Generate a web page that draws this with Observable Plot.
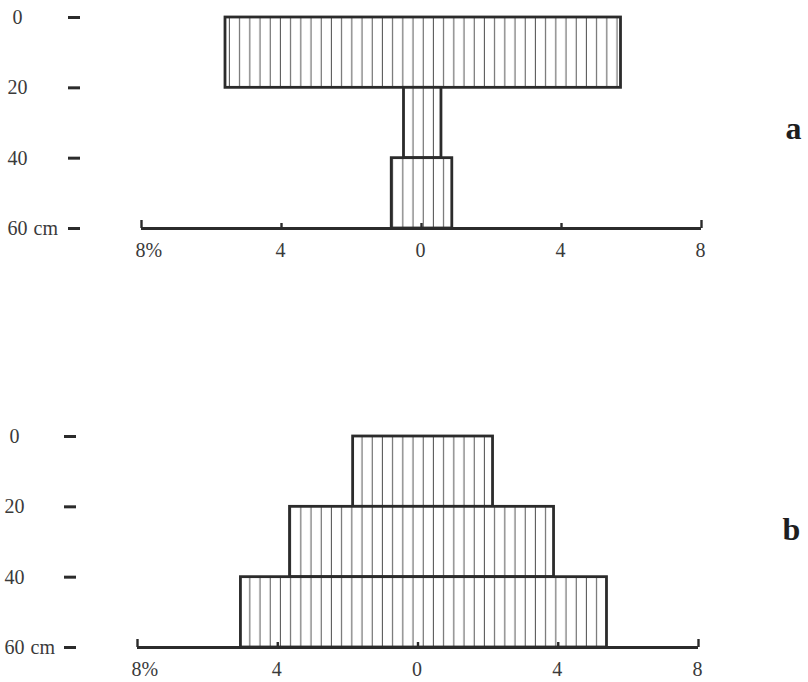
<!DOCTYPE html>
<html><head><meta charset="utf-8">
<script src="https://cdn.jsdelivr.net/npm/d3@7"></script>
<script src="https://cdn.jsdelivr.net/npm/@observablehq/plot@0.6"></script>
<style>
body{margin:0;background:#fff;}
#chart{width:808px;height:682px;}
#chart svg{display:block;}
</style></head><body><div id="chart"></div>
<script>
// Depth classes (cm)
const depthTop = [0, 20, 40];
const depthBottom = [20, 40, 60];
const depthTicks = [0, 20, 40, 60];
const depthUnit = "cm";
// Panel a: percentage to the left / right of the centre line
const aLeft = [5.6, 0.5, 0.85];
const aRight = [5.7, 0.57, 0.88];
// Panel b
const bLeft = [1.85, 3.65, 5.05];
const bRight = [2.14, 3.88, 5.39];
// x axis ticks
const xTicks = [-8, -4, 0, 4, 8];
const xEndTicks = [-8, 8];
const xMidTicks = [-4, 0, 4];
const panelLabels = ["a", "b"];

const ink = "#2b2b2b";
const textInk = "#3a3a3a";
const font = "'Liberation Serif', 'DejaVu Serif', serif";
const fs = 20;

function panel(left, right, label, id, m) {
  const rows = depthTop.map((t, i) => ({x1: -left[i], x2: right[i], y1: t, y2: depthBottom[i]}));
  const maxDepth = d3.max(depthBottom);
  const svg = Plot.plot({
    width: 808,
    height: 341,
    marginTop: m.top, marginBottom: m.bottom, marginLeft: m.left, marginRight: m.right,
    style: {fontFamily: font, fontSize: `${fs}px`, color: ink, background: "#fff"},
    x: {domain: [xTicks[0], xTicks[xTicks.length - 1]]},
    y: {domain: [0, maxDepth], reverse: true},
    marks: [
      Plot.rect(rows, {x1: "x1", x2: "x2", y1: "y1", y2: "y2", fill: `url(#${id})`, stroke: ink, strokeWidth: 2.8}),
      // x axis baseline
      Plot.ruleY([maxDepth], {x1: () => xTicks[0], x2: () => xTicks[xTicks.length - 1], stroke: ink, strokeWidth: 2.8}),
      Plot.ruleX(xEndTicks, {y1: () => maxDepth, y2: () => maxDepth, insetTop: -8, stroke: ink, strokeWidth: 2.4}),
      Plot.ruleX(xMidTicks, {y1: () => maxDepth, y2: () => maxDepth, insetTop: -5, stroke: ink, strokeWidth: 2.4}),
      Plot.axisX({ticks: xTicks, tickSize: 0, tickPadding: 14, textAnchor: "start", dx: -6,
        fontSize: fs, fontFamily: font, fill: textInk,
        tickFormat: d => d === xTicks[0] ? `${-d}%` : `${Math.abs(d)}`}),
      // y axis dashes and labels
      Plot.axisY({ticks: depthTicks, tickSize: 12, text: null, dx: m.dashRight - m.left, strokeWidth: 3, stroke: ink}),
      Plot.axisY({ticks: depthTicks, tickSize: 0, tickPadding: 0, textAnchor: "middle", dx: m.numCenter - m.left,
        fontSize: fs, fontFamily: font, fill: textInk, tickFormat: d => `${d}`}),
      Plot.text([maxDepth], {y: d => d, text: () => depthUnit, frameAnchor: "left", textAnchor: "start",
        dx: m.unitLeft - m.left, fontSize: fs, fontFamily: font, fill: textInk}),
      Plot.text([label], {frameAnchor: "right", textAnchor: "start", dx: m.labelDx, dy: m.labelDy,
        fontSize: 32, fontWeight: "bold", fill: "#1e1e1e", fontFamily: font})
    ]
  });
  const defs = d3.select(svg).insert("defs", ":first-child");
  const pat = defs.append("pattern").attr("id", id).attr("patternUnits", "userSpaceOnUse")
    .attr("width", 10.2).attr("height", 10);
  pat.append("rect").attr("width", 10.2).attr("height", 10).attr("fill", "#fff");
  pat.append("line").attr("x1", 5).attr("x2", 5).attr("y1", 0).attr("y2", 10)
    .attr("stroke", "#555").attr("stroke-width", 1);
  return svg;
}

const chart = document.getElementById("chart");
chart.append(panel(aLeft, aRight, panelLabels[0], "hatchA",
  {top: 17, bottom: 113, left: 141, right: 107, dashRight: 80, numCenter: 17, unitLeft: 33, labelDx: 84, labelDy: 6}));
chart.append(panel(bLeft, bRight, panelLabels[1], "hatchB",
  {top: 95, bottom: 35, left: 137, right: 110, dashRight: 76, numCenter: 14, unitLeft: 30, labelDx: 84, labelDy: -12}));
</script>
</body></html>
